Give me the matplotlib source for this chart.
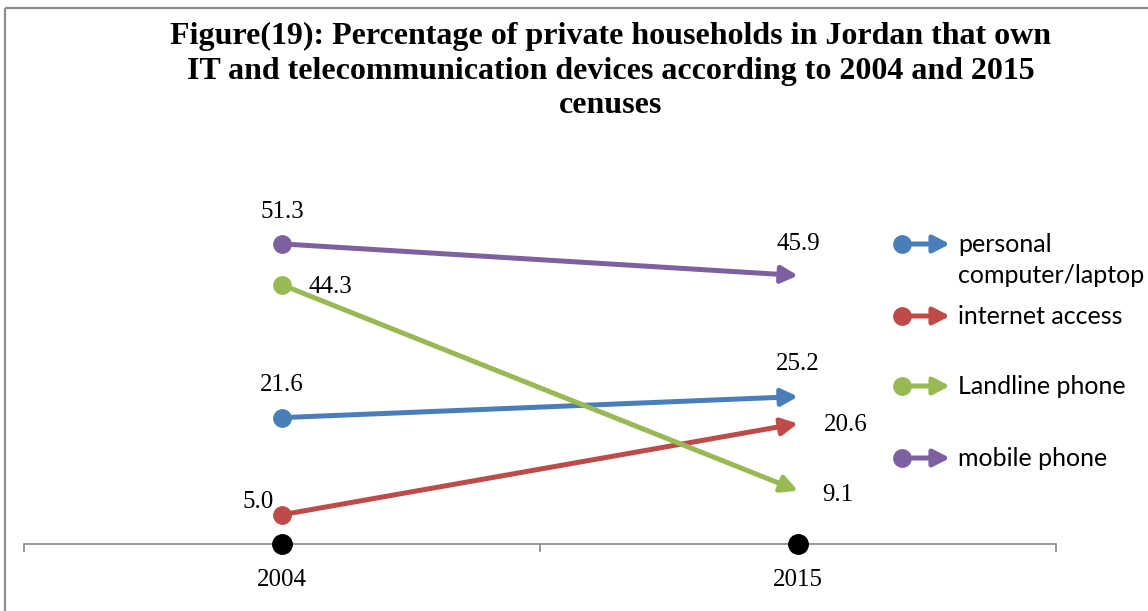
import matplotlib
matplotlib.use("Agg")
import matplotlib.pyplot as plt
from matplotlib.patches import Rectangle

years = ["2004", "2015"]
series_names = ["personal\ncomputer/laptop", "internet access", "Landline phone", "mobile phone"]
values_2004 = [21.6, 5.0, 44.3, 51.3]
values_2015 = [25.2, 20.6, 9.1, 45.9]
colors = ["#4A7EBB", "#BE4B48", "#98B954", "#7D60A0"]
title = ("Figure(19): Percentage of private households in Jordan that own\n"
         "IT and telecommunication devices according to 2004 and 2015\n"
         "cenuses")

W, H = 1148, 611
fig = plt.figure(figsize=(W / 100, H / 100), dpi=100)

# plot area in pixel terms
x0, x1 = 24, 1056
y_zero, y_top = 544, 193
ax = fig.add_axes([x0 / W, (H - y_zero) / H, (x1 - x0) / W, (y_zero - y_top) / H])
ax.set_xlim(-0.5, 1.5)
ax.set_ylim(0, 60)
for s in ["top", "right", "left"]:
    ax.spines[s].set_visible(False)
ax.spines["bottom"].set_color("#868686")
ax.spines["bottom"].set_linewidth(1.2)
ax.set_yticks([])
ax.set_xticks([-0.5, 0.5, 1.5])
ax.set_xticklabels([])
ax.tick_params(axis="x", which="major", direction="out", length=6, width=1.2, color="#868686")
ax.set_xticks([0, 1], minor=True)
ax.set_xticklabels(years, minor=True, fontfamily="Liberation Serif", fontsize=18)
ax.tick_params(axis="x", which="minor", length=0, pad=18)

serif = "Liberation Serif"
arrow_style = "-|>,head_length=0.7,head_width=0.36"
arrow_scale = 14

# baseline points at each census year
ax.plot([0, 1], [0, 0], "o", color="black", markersize=14, clip_on=False, zorder=6,
        linestyle="none")

for v1, v2, c in zip(values_2004, values_2015, colors):
    ax.annotate("", xy=(1, v2), xytext=(0, v1),
                arrowprops=dict(arrowstyle=arrow_style, lw=3.6, color=c,
                                shrinkA=0, shrinkB=0, mutation_scale=arrow_scale))
    ax.plot([0], [v1], "o", color=c, markersize=12.5, zorder=5, clip_on=False)

# value labels (offsets in pixels from each point)
offsets_2004 = [(0, 33), (-24, 13), (48, -2), (0, 32)]
offsets_2015 = [(0, 33), (48, -2), (40, -4), (0, 31)]
for v, (dx, dy) in zip(values_2004, offsets_2004):
    ax.annotate(f"{v:.1f}", xy=(0, v), xytext=(dx, dy),
                textcoords="offset pixels", ha="center", va="center",
                fontfamily=serif, fontsize=18)
for v, (dx, dy) in zip(values_2015, offsets_2015):
    ax.annotate(f"{v:.1f}", xy=(1, v), xytext=(dx, dy),
                textcoords="offset pixels", ha="center", va="center",
                fontfamily=serif, fontsize=18)

# overlay in pixel coordinates for title, legend and frame
ov = fig.add_axes([0, 0, 1, 1], facecolor="none")
ov.set_xlim(0, W)
ov.set_ylim(H, 0)
ov.axis("off")

ov.add_patch(Rectangle((5, 8), W + 20, H + 20, fill=False, edgecolor="#8C8C8C", lw=1.6))

ov.text(611, 71, title, ha="center", va="center", fontfamily=serif,
        fontweight="bold", fontsize=23, linespacing=1.26)

legend_y = [244, 316, 386, 458]
text_y = [260, 316, 386, 458]
for y, ty, name, c in zip(legend_y, text_y, series_names, colors):
    ov.annotate("", xy=(950, y), xytext=(902, y),
                arrowprops=dict(arrowstyle=arrow_style, lw=3.6, color=c,
                                shrinkA=0, shrinkB=0, mutation_scale=arrow_scale))
    ov.plot([902], [y], "o", color=c, markersize=12.5)
    ov.text(958, ty, name, ha="left", va="center", fontfamily="Lato",
            fontsize=18, linespacing=1.42)

fig.savefig("out.png", dpi=100)
